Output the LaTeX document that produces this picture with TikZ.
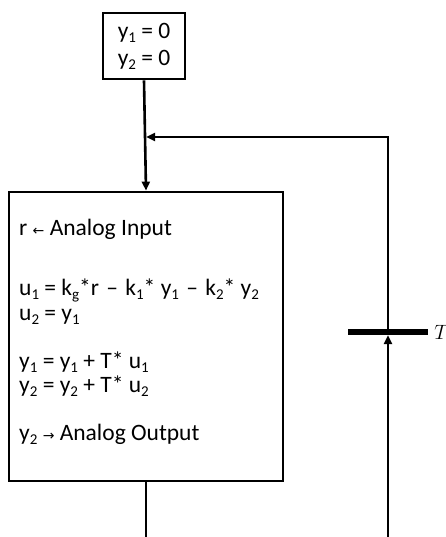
\documentclass[tikz,border=0pt]{standalone}
\usepackage{fontspec}
\setmainfont{Carlito}
\newfontfamily\arrowfont{DejaVu Sans}
\usetikzlibrary{arrows.meta}
\newcommand{\sbs}[1]{\raisebox{-4pt}{\fontsize{15}{15}\selectfont #1}}
\newcommand{\larr}{{\arrowfont\fontsize{14}{14}\selectfont ←}}
\newcommand{\rarr}{{\arrowfont\fontsize{14}{14}\selectfont →}}
\newcommand{\dsh}{\hspace{2pt}–\hspace{2pt}}
\begin{document}
\begin{tikzpicture}[x=1pt,y=-1pt,
  box/.style={draw=black,line width=2.8pt,inner sep=0pt},
  line/.style={draw=black,line width=2.6pt},
  arr/.style={line,-{Triangle[length=9pt,width=8pt]}},
  txt/.style={anchor=base west,inner sep=0pt,font=\fontsize{23.5}{27}\selectfont}]
\useasboundingbox (0,0) rectangle (446,537);
\node[box,minimum width=82pt,minimum height=66pt,align=center,
  font=\fontsize{23.5}{27}\selectfont] (init) at (144,46)
  {y\sbs{1} = 0\\y\sbs{2} = 0};
\node[box,minimum width=274pt,minimum height=289pt] (proc) at (146,336.5) {};
\node[txt] (l1) at (19,235) {r \larr{} Analog Input};
\node[txt] (l2) at (19,295) {u\sbs{1} = k\sbs{g}*r \dsh{} k\sbs{1}* y\sbs{1} \dsh{} k\sbs{2}* y\sbs{2}};
\node[txt] (l3) at (19,320) {u\sbs{2} = y\sbs{1}};
\node[txt] (l4) at (19,368) {y\sbs{1} = y\sbs{1} + T* u\sbs{1}};
\node[txt] (l5) at (19,392) {y\sbs{2} = y\sbs{2} + T* u\sbs{2}};
\node[txt] (l6) at (19,440) {y\sbs{2} \rarr{} Analog Output};
\node[fill=black,minimum width=80pt,minimum height=6pt,inner sep=0pt] (bar) at (388,332) {};
\node[anchor=west,inner sep=0pt,font=\fontsize{21}{21}\selectfont] (tl) at ([xshift=6pt]bar.east) {$T$};
\coordinate (joint) at (146,137);
\coordinate (outl) at (146,537);
\coordinate (outr) at (388,537);
\draw[arr] (init.south) -- (proc.north);
\draw[arr] (bar.north) |- (joint);
\draw[line] (proc.south) -- (outl);
\draw[arr] (outr) -- (bar.south);
\end{tikzpicture}
\end{document}
